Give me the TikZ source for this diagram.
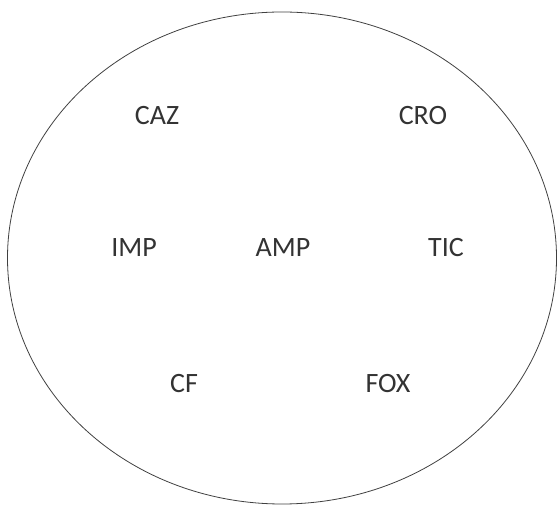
\documentclass[tikz,border=0pt]{standalone}
\usepackage{fontspec}
\setmainfont{Carlito}
\usetikzlibrary{shapes.geometric}
\begin{document}
\begin{tikzpicture}[x=1pt,y=1pt,lbl/.style={font=\fontsize{28}{32}\selectfont,text=black!80}]
\useasboundingbox (0,0) rectangle (559,508);
\node[draw=black!75,line width=0.8pt,ellipse,minimum width=549pt,minimum height=492pt,inner sep=0pt] (e) at (282,250) {};
\node[lbl] (caz) at (157,392) {CAZ};
\node[lbl] (cro) at (423,392) {CRO};
\node[lbl] (imp) at (134,260) {IMP};
\node[lbl] (amp) at (283,260) {AMP};
\node[lbl] (tic) at (446,260) {TIC};
\node[lbl] (cf) at (184,124) {CF};
\node[lbl] (fox) at (388,124) {FOX};
\end{tikzpicture}
\end{document}
